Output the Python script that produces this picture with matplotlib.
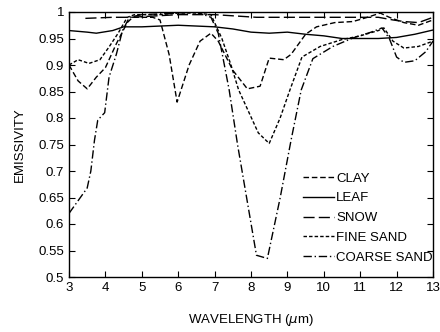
import matplotlib
matplotlib.use("Agg")
import matplotlib.pyplot as plt

plt.rcParams['font.family'] = ['Liberation Sans', 'DejaVu Sans']

# Wavelength (um) and emissivity for each material
clay_x = [3.0, 3.25, 3.5, 3.75, 4.0, 4.3, 4.6, 4.75, 5.0, 5.3, 5.5, 5.75, 5.97, 6.3, 6.6, 6.9, 7.1, 7.5, 7.9, 8.25, 8.5, 8.9, 9.1, 9.5, 9.8, 10.3, 10.8, 11.2, 11.55, 11.8, 12.2, 12.6, 13.0]
clay_y = [0.90, 0.87, 0.855, 0.877, 0.895, 0.94, 0.98, 0.99, 0.99, 0.99, 0.985, 0.92, 0.83, 0.90, 0.945, 0.96, 0.945, 0.89, 0.855, 0.86, 0.913, 0.91, 0.92, 0.958, 0.972, 0.98, 0.982, 0.99, 0.998, 0.99, 0.98, 0.975, 0.985]

leaf_x = [3.0, 3.5, 3.75, 4.2, 4.5, 5.0, 6.0, 7.0, 7.5, 8.0, 8.5, 9.0, 9.5, 10.0, 10.5, 11.0, 11.5, 12.0, 12.5, 13.0]
leaf_y = [0.965, 0.962, 0.960, 0.965, 0.972, 0.972, 0.975, 0.972, 0.968, 0.962, 0.960, 0.962, 0.958, 0.955, 0.950, 0.950, 0.950, 0.952, 0.958, 0.966]

snow_x = [3.45, 4.2, 4.7, 6.0, 7.0, 8.15, 9.0, 10.0, 11.0, 11.5, 11.9, 12.2, 12.6, 13.0]
snow_y = [0.988, 0.990, 0.990, 0.995, 0.995, 0.990, 0.990, 0.990, 0.990, 0.990, 0.985, 0.982, 0.980, 0.990]

fine_x = [3.0, 3.25, 3.55, 3.85, 4.1, 4.35, 4.6, 4.8, 5.5, 6.0, 6.5, 6.9, 7.2, 7.45, 7.66, 8.2, 8.5, 8.8, 9.07, 9.4, 9.9, 10.5, 11.0, 11.5, 11.65, 11.9, 12.2, 12.6, 13.0]
fine_y = [0.90, 0.91, 0.903, 0.91, 0.934, 0.96, 0.99, 0.995, 0.995, 0.998, 0.998, 0.995, 0.95, 0.90, 0.853, 0.772, 0.752, 0.80, 0.853, 0.915, 0.935, 0.948, 0.955, 0.965, 0.97, 0.945, 0.932, 0.935, 0.945]

coarse_x = [3.0, 3.5, 3.6, 3.7, 3.79, 3.98, 4.1, 4.3, 4.47, 4.66, 5.0, 6.0, 6.5, 6.9, 7.1, 7.4, 7.63, 8.15, 8.45, 8.8, 9.1, 9.38, 9.7, 10.25, 10.8, 11.3, 11.6, 11.8, 12.0, 12.2, 12.5, 12.8, 13.0]
coarse_y = [0.62, 0.668, 0.70, 0.758, 0.796, 0.81, 0.877, 0.92, 0.965, 0.99, 0.995, 0.998, 1.0, 0.99, 0.96, 0.853, 0.75, 0.541, 0.535, 0.649, 0.758, 0.853, 0.912, 0.935, 0.951, 0.962, 0.97, 0.95, 0.915, 0.905, 0.908, 0.925, 0.945]

x_ticks = [3, 4, 5, 6, 7, 8, 9, 10, 11, 12, 13]
y_ticks = [0.5, 0.55, 0.6, 0.65, 0.7, 0.75, 0.8, 0.85, 0.9, 0.95, 1.0]
y_tick_labels = ['0.5', '0.55', '0.6', '0.65', '0.7', '0.75', '0.8', '0.85', '0.9', '0.95', '1']

fig = plt.figure(figsize=(4.4, 3.32), dpi=100)
left_px, right_px, top_px, bottom_px = 69, 433, 12, 277
ax = fig.add_axes([left_px/440, 1-bottom_px/332, (right_px-left_px)/440, (bottom_px-top_px)/332])

lw = 1.0
ax.plot(clay_x, clay_y, color='black', lw=lw, linestyle=(0, (4, 2)), label='CLAY')
ax.plot(leaf_x, leaf_y, color='black', lw=lw, linestyle='-', label='LEAF')
ax.plot(snow_x, snow_y, color='black', lw=lw, linestyle=(0, (8, 3)), label='SNOW')
ax.plot(fine_x, fine_y, color='black', lw=lw, linestyle=(0, (2.5, 1.5)), label='FINE SAND')
ax.plot(coarse_x, coarse_y, color='black', lw=lw, linestyle=(0, (6, 2, 1, 2)), label='COARSE SAND')

ax.set_xlim(3, 13)
ax.set_ylim(0.5, 1.0)
ax.set_xticks(x_ticks)
ax.set_yticks(y_ticks)
ax.set_yticklabels(y_tick_labels)
ax.tick_params(direction='in', length=4, width=0.8, top=True, right=True, labelsize=9.5)
for s in ax.spines.values():
    s.set_linewidth(1.0)

ax.set_xlabel(r'WAVELENGTH ($\mu$m)', fontsize=9.5, labelpad=13)
ax.set_ylabel('EMISSIVITY', fontsize=9.5, labelpad=9)

leg = ax.legend(loc='lower right', bbox_to_anchor=(1.007, 0.04), frameon=False,
                fontsize=9.5, handlelength=2.4, handletextpad=0.15,
                labelspacing=0.57, borderaxespad=0.0, borderpad=0.2)

fig.savefig('out.png', dpi=100)
